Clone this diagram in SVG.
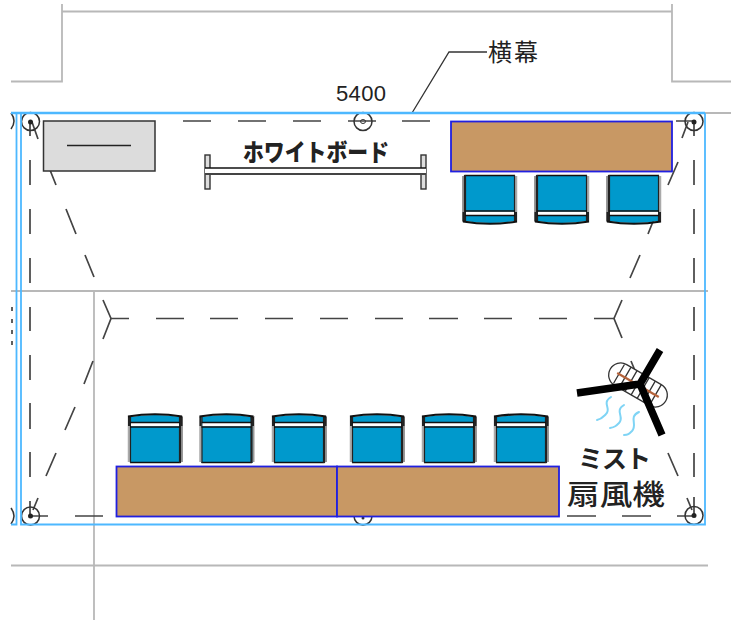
<svg xmlns="http://www.w3.org/2000/svg" width="731" height="620" viewBox="0 0 731 620">
<style>
.g{fill:none;stroke:#b8b8b8;stroke-width:1.8}
.b{fill:none;stroke:#4db8ff}
.d{fill:none;stroke:#444;stroke-width:1.7}
.c{fill:none;stroke:#333;stroke-width:1.5}
.t{fill:#c89864;stroke:#2020e0;stroke-width:1.8}
text{fill:#222;font-family:"Noto Sans CJK JP","Liberation Sans",sans-serif}
</style>
<defs>
<g id="chair">
<path d="M2 0H53V46Q28 50 2 46Z" fill="#0099cc"/>
<path d="M2.500 0.500H53" stroke="#111" stroke-width="1.500" fill="none"/>
<path d="M1 1V47" stroke="#999" stroke-width="2" fill="none"/>
<path d="M3 0V47" stroke="#222" stroke-width="2.200" fill="none"/>
<path d="M54 1V47" stroke="#aaa" stroke-width="2.500" fill="none"/>
<path d="M52.500 0V47" stroke="#222" stroke-width="1.200" fill="none"/>
<rect x="4" y="36.500" width="48" height="3.500" fill="#fff"/>
<path d="M3 36H53M3 40.500H53" stroke="#111" stroke-width="1.300" fill="none"/>
<path d="M1.500 37V46M54 37V46" stroke="#222" stroke-width="2" fill="none"/>
<path d="M1 46.500Q28 51 55 46.500" stroke="#111" stroke-width="2.200" fill="none"/>
</g>
</defs>
<g id="building">
<path class="g" d="M11 81.500H62V4M62 11.500H672M672 4V81.500H731"/>
<path class="g" d="M705 113H731M11 291H708M94 291V620M11 565.500H708"/>
</g>
<g id="edge-marks">
<path class="d" d="M12 307V311M12 319V323M12 330V334M12 341V345"/>
<path class="c" d="M11 113Q17 121 11 129M11 508Q17 516 11 524"/>
</g>
<g id="connectors">
<path class="d" d="M183 121H211M238 121H266M293 121H321M348 121H376M402 121H430M676 121H694"/>
<path class="d" d="M30 121V136M30 160V185M30 209V234M30 258V283M30 307V331M30 355V380M30 403V429M30 452V477M30 501V516"/>
<path class="d" d="M694 121V136M694 160V185M694 209V234M694 258V283M694 307V331M694 355V380M694 405V429M694 453V477M694 497V516"/>
<path class="d" d="M30 516H48M75 516H103M567 516H596M622 516H651M677 516H694"/>
<path class="d" d="M111 318.500H129M156 318.500H184M210 318.500H238M265 318.500H293M320 318.500H348M375 318.500H403M429 318.500H458M484 318.500H512M539 318.500H567M594 318.500H614"/>
<path class="d" d="M103 300L111 318.500L103 339M622 300L614 318.500L622 338"/>
<path class="d" d="M32 122L38 139M46 160L56 185M66 209L76 234M85 255L94 277"/>
<path class="d" d="M93 361L84 384M75 407L65 430M56 453L46 476M38 498L33 510"/>
<path class="d" d="M688 122L682 138M678 162L668 185M658 209L648 234M640 255L630 278"/>
<path class="d" d="M631 361L641 385M650 407L660 430M668 453L678 476M687 498L692 510"/>
<path d="M412 113L449 52H487" fill="none" stroke="#333" stroke-width="1.300"/>
</g>
<g id="columns">
<circle class="c" cx="30.500" cy="121.500" r="9"/><circle cx="30.500" cy="122" r="2.500" fill="#222"/>
<circle class="c" cx="694" cy="121.500" r="9"/><circle cx="694" cy="122" r="2.500" fill="#222"/>
<circle class="c" cx="30.500" cy="516" r="9"/><circle cx="30.500" cy="516" r="2.500" fill="#222"/>
<circle class="c" cx="694" cy="515.500" r="9"/><circle cx="694" cy="515.500" r="2.500" fill="#222"/>
<circle class="c" cx="363" cy="121.500" r="9"/><ellipse cx="363" cy="121.500" rx="2.500" ry="2" fill="none" stroke="#333"/>
<circle class="c" cx="363" cy="516" r="9"/><circle cx="363" cy="518" r="1.500" fill="#333"/>
</g>
<g id="curtain">
<path class="b" stroke-width="2.400" d="M11 113H705"/>
<path class="b" stroke-width="1.800" d="M705 113V524.500H21V113M16.500 113V524.500H11"/>
</g>
<g id="gray-box">
<rect x="43.500" y="121" width="111.500" height="50" fill="#dcdcdc" stroke="#333" stroke-width="1.500"/>
<path d="M67 145.500H131" stroke="#222" stroke-width="1.500"/>
</g>
<g id="whiteboard">
<rect x="205" y="155" width="5" height="34" fill="#ddd" stroke="#333" stroke-width="1.400"/>
<rect x="421" y="155" width="5" height="34" fill="#ddd" stroke="#333" stroke-width="1.400"/>
<rect x="205" y="168" width="221" height="6" fill="#fff"/>
<path d="M205 168H426" stroke="#111" stroke-width="1.400"/>
<path d="M205 174H426" stroke="#444" stroke-width="1.800"/>
<text x="243" y="161" font-size="24" font-weight="900" textLength="146" lengthAdjust="spacingAndGlyphs">ホワイトボード</text>
</g>
<g id="table-top"><rect class="t" x="451" y="121.500" width="221" height="50"/></g>
<g id="table-bottom-1"><rect class="t" x="116.500" y="466.500" width="220.500" height="50"/></g>
<g id="table-bottom-2"><rect class="t" x="337" y="466.500" width="222" height="50"/></g>
<g id="chairs-top">
<use href="#chair" x="462" y="175"/><use href="#chair" x="534" y="175"/><use href="#chair" x="606" y="175"/>
</g>
<g id="chairs-bottom">
<use href="#chair" transform="rotate(180 155 437.500)" x="127" y="412"/>
<use href="#chair" transform="rotate(180 226.500 437.500)" x="198.500" y="412"/>
<use href="#chair" transform="rotate(180 299 437.500)" x="271" y="412"/>
<use href="#chair" transform="rotate(180 377 437.500)" x="349" y="412"/>
<use href="#chair" transform="rotate(180 449 437.500)" x="421" y="412"/>
<use href="#chair" transform="rotate(180 521 437.500)" x="493" y="412"/>
</g>
<g id="mist-fan">
<g transform="rotate(30 638 385)">
<rect x="606" y="373" width="64" height="24" rx="12" fill="#fff" stroke="#333" stroke-width="1.300"/>
<path d="M616 374V396M623 373V397M630 373V397M637 373V397M644 373V397M651 373V397M658 373V397" stroke="#333" stroke-width="1.300"/>
<path d="M614 385H662" stroke="#b5623a" stroke-width="2.200"/>
</g>
<path d="M660 350L640 384L577 393M640 384L662 435" fill="none" stroke="#000" stroke-width="7.500" stroke-linejoin="bevel"/>
<g fill="none" stroke="#7fd4f5" stroke-width="2" stroke-linecap="round">
<path d="M611 397C601 403 612 409 606 414C603 417 602 419 597 420"/>
<path d="M624 405C614 411 625 417 619 423C616 426 615 427 610 428"/>
<path d="M639 412C628 417 638 424 632 431C629 434 628 435 624 435"/>
</g>
</g>
<g id="labels">
<text x="336" y="101" font-size="22" textLength="50" style="font-family:'Liberation Sans',sans-serif">5400</text>
<text x="488" y="61" font-size="24" textLength="50">横幕</text>
<text x="578" y="468" font-size="25" font-weight="700" textLength="73">ミスト</text>
<text x="567" y="505" font-size="28" font-weight="500" textLength="98" lengthAdjust="spacingAndGlyphs">扇風機</text>
</g>
</svg>
